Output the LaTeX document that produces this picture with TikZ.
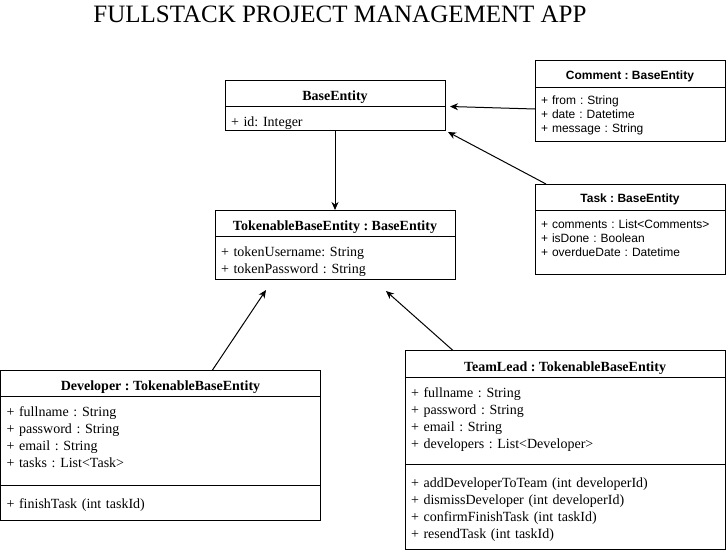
\documentclass[tikz,border=0pt]{standalone}
\usepackage{fontspec}
\setmainfont{Liberation Serif}
\newfontfamily\umlsans{Liberation Sans}
\usetikzlibrary{arrows.meta,positioning}
\frenchspacing
\definecolor{umldark}{RGB}{0,0,0}
\tikzset{
  uml head/.style={
    draw=umldark,
    line width=1pt,
    outer sep=0pt,
    inner sep=0pt,
    minimum height=26.5pt,
    text height=15pt,
    text depth=0pt,
    align=center,
    font=\fontsize{14}{17}\selectfont\bfseries,
  },
  uml body/.style={
    draw=umldark,
    line width=1pt,
    outer sep=0pt,
    inner xsep=6pt,
    inner ysep=0pt,
    text height=20pt,
    align=left,
    font=\fontsize{14}{17}\selectfont,
  },
  uml sans head/.style={
    uml head,
    text height=11pt,
    font=\umlsans\fontsize{12}{14}\selectfont\bfseries,
  },
  uml sans body/.style={
    uml body,
    text height=17.5pt,
    font=\umlsans\fontsize{12}{14}\selectfont,
  },
  uml arrow/.style={
    -{Stealth[length=8pt,width=7pt,inset=2.5pt]},
    line width=1pt,
    draw=umldark,
  },
}

\begin{document}
\begin{tikzpicture}[x=1pt,y=-1pt]
  \useasboundingbox (0,0) rectangle (726,554);
  \node[anchor=base, font=\fontsize{25}{30}\selectfont] (title) at (340,22.7)
    {FULLSTACK PROJECT MANAGEMENT APP};

  % base classes
  \node[uml head, minimum width=220pt, anchor=north] (base) at (335,80) {BaseEntity};
  \node[uml body, text width=208pt, text depth=3.5pt, below=0pt of base] (baseattr)
    {+ id: Integer};
  \node[uml head, minimum width=240pt, anchor=north] (tok) at (335,210)
    {TokenableBaseEntity : BaseEntity};
  \node[uml body, text width=228pt, text depth=22.5pt, below=0pt of tok] (tokattr)
    {+ tokenUsername: String\\+ tokenPassword : String};

  % entities on the right
  \node[uml sans head, minimum width=190pt, anchor=north] (cmt) at (630,60.5)
    {Comment : BaseEntity};
  \node[uml sans body, text width=178pt, text depth=36.5pt, below=0pt of cmt] (cmtattr)
    {+ from : String\\+ date : Datetime\\+ message : String};
  \node[uml sans head, minimum width=190pt, anchor=north] (task) at (630,184)
    {Task : BaseEntity};
  \node[uml sans body, text width=178pt, text depth=46.5pt, below=0pt of task] (taskattr)
    {+ comments : List<Comments>\\+ isDone : Boolean\\+ overdueDate : Datetime};

  % users
  \node[uml head, minimum width=320pt, anchor=north] (dev) at (160.5,370)
    {Developer : TokenableBaseEntity};
  \node[uml body, text width=308pt, text depth=68.5pt, below=0pt of dev] (devattr)
    {+ fullname : String\\+ password : String\\+ email : String\\+ tasks : List<Task>};
  \node[uml body, text width=308pt, text height=23pt, text depth=12pt, below=0pt of devattr] (devops)
    {+ finishTask (int taskId)};
  \node[uml head, minimum width=320pt, anchor=north] (lead) at (565,350.5)
    {TeamLead : TokenableBaseEntity};
  \node[uml body, text width=308pt, text depth=67pt, below=0pt of lead] (leadattr)
    {+ fullname : String\\+ password : String\\+ email : String\\+ developers : List<Developer>};
  \node[uml body, text width=308pt, text height=23pt, text depth=62.5pt, below=0pt of leadattr] (leadops)
    {+ addDeveloperToTeam (int developerId)\\+ dismissDeveloper (int developerId)\\+ confirmFinishTask (int taskId)\\+ resendTask (int taskId)};

  % inheritance arrows
  \draw[uml arrow] (baseattr.south) -- (tok.north);
  \draw[uml arrow] ([shift={(0,-5)}]cmtattr.west) -- ([shift={(5,0)}]base.south east);
  \draw[uml arrow] ([shift={(11,0)}]task.north west) -- ([shift={(3,2)}]baseattr.south east);
  \draw[uml arrow] ([shift={(52,0)}]dev.north) -- ([shift={(-69,11)}]tokattr.south);
  \draw[uml arrow] ([shift={(-112,0)}]lead.north) -- ([shift={(51,12)}]tokattr.south);
\end{tikzpicture}
\end{document}
